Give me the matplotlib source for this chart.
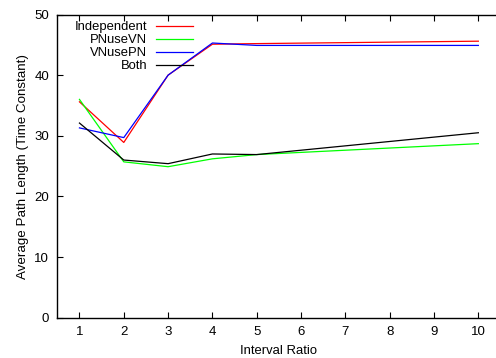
import matplotlib
matplotlib.use("Agg")
import matplotlib.pyplot as plt

plt.rcParams['font.family'] = ['Liberation Sans', 'DejaVu Sans']

x = [1, 2, 3, 4, 5, 10]
independent = [35.6, 28.9, 40.0, 45.1, 45.2, 45.6]
pnusevn = [36.0, 25.7, 24.9, 26.2, 26.9, 28.7]
vnusepn = [31.3, 29.7, 40.0, 45.3, 44.9, 44.9]
both = [32.1, 26.0, 25.4, 27.0, 26.9, 30.5]

series = [
    ("Independent", independent, "#ff0000"),
    ("PNuseVN", pnusevn, "#00ff00"),
    ("VNusePN", vnusepn, "#0000ff"),
    ("Both", both, "#000000"),
]

W, H = 496, 358
fig = plt.figure(figsize=(W / 100, H / 100), dpi=100)
left, right, top, bottom = 57.3, 500.5, 14.5, 317.7
ax = fig.add_axes([left / W, 1 - bottom / H, (right - left) / W, (bottom - top) / H])

for name, vals, col in series:
    ax.plot(x, vals, color=col, lw=0.9, label=name)

ax.set_xlim(0.5, 10.5)
ax.set_ylim(0, 50)
ax.set_xticks(range(1, 11))
ax.set_yticks(range(0, 51, 10))
ax.tick_params(axis='x', direction='in', top=True, bottom=True, length=4, width=0.8, labelsize=9.5, pad=6)
ax.tick_params(axis='y', direction='in', left=True, right=False, length=4, width=0.8, labelsize=9.5, pad=6)
for s in ax.spines.values():
    s.set_linewidth(1.0)
ax.spines['right'].set_visible(False)

ax.set_xlabel("Interval Ratio", fontsize=9.4, labelpad=5)
ax.set_ylabel("Average Path Length (Time Constant)", fontsize=9.6, labelpad=4)

leg = ax.legend(loc='upper right', bbox_to_anchor=(193 / W, 1 - 21 / H),
                bbox_transform=fig.transFigure, frameon=False, markerfirst=False,
                fontsize=9.4, handlelength=2.8, handletextpad=0.7, labelspacing=0.07,
                borderpad=0, borderaxespad=0)

fig.savefig("out.png", dpi=100)
